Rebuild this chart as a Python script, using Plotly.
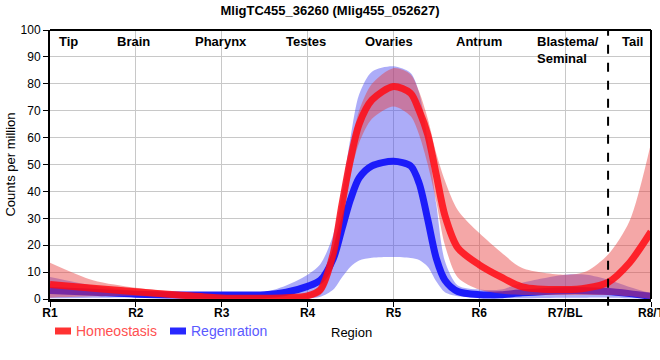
import plotly.graph_objects as go

# ---- data ----
regions = ["R1", "R2", "R3", "R4", "R5", "R6", "R7/BL", "R8/T"]
region_names = ["Tip", "Brain", "Pharynx", "Testes", "Ovaries", "Antrum", "Blastema/<br>Seminal", "Tail"]
region_name_pos = [0.22, 0.97, 1.99, 2.98, 3.95, 5.0, 5.65, 6.78]

# sample positions along the body axis (region index units)
pos = [0, 0.5, 1, 1.5, 2, 2.5, 2.75, 3, 3.15, 3.3, 3.4, 3.5, 3.6, 3.75, 4,
       4.2, 4.3, 4.4, 4.5, 4.6, 4.75, 5, 5.25, 5.5, 6, 6.25, 6.5, 6.75, 7]

homeo_mean = [5.4, 4.0, 2.7, 1.5, 0.4, 0.3, 0.5, 1.2, 3.5, 17, 35, 52, 65, 74, 79,
              76.5, 70, 61, 46, 31, 19, 12.7, 8.2, 4.5, 3.5, 4.1, 6.2, 13.5, 25]
homeo_upper = [13.5, 7, 4.2, 2.5, 1.2, 1.0, 1.2, 2, 5, 19, 38, 56, 70, 80, 85.8,
               83.5, 77, 67, 54, 44, 33, 24.5, 17.5, 11.5, 9, 10.3, 16.5, 29, 58]
homeo_lower = [0.5, 1, 1.2, 0.3, 0, 0, 0, 0.3, 1.5, 13, 30, 46, 58, 67, 71.6,
               68, 61, 50, 36, 20, 8, 3.5, 2, 1.5, 1.5, 1.5, 1.5, 1, 0]

regen_mean = [3.2, 2.5, 1.8, 1.5, 1.5, 1.6, 2.5, 4.7, 7, 15, 26, 37, 45, 49.5, 51.2,
              49.5, 43, 29.5, 15, 7, 2.8, 1.6, 1.6, 2.3, 3.1, 3.1, 2.8, 2, 1.0]
regen_upper = [8.2, 5, 3, 2.6, 2.5, 2.6, 5, 9, 13, 24, 40, 60, 76, 84.5, 86.5,
               84, 76.6, 59, 35, 14, 5, 3.5, 3.5, 6, 9, 9, 7.2, 4.5, 2.2]
regen_lower = [0.3, 0.5, 0.6, 0.5, 0.5, 0.5, 0.3, 0.2, 0.8, 3.5, 8, 12, 14.3, 15.3, 15.6,
               15.2, 14.5, 12, 6.5, 2.5, 1, 0.5, 0.3, 0.3, 0.5, 0.5, 0.5, 0.3, 0.2]

tail_boundary = 6.5
yticks = list(range(0, 101, 10))

title_text = "MligTC455_36260 (Mlig455_052627)"
series_names = ["Homeostasis", "Regenration"]

HOMEO_LINE = "rgba(255,10,20,0.85)"
REGEN_LINE = "rgba(20,20,250,0.95)"

W, H = 660, 360
ML, MR, MT, MB = 50, 9, 30, 61
PW, PH = W - ML - MR, H - MT - MB

def px_x(px):
    return (px - ML) / PW

def px_y(py):
    return (H - MB - py) / PH

# ---- figure ----
fig = go.Figure()

def band(upper, lower, color):
    fig.add_trace(go.Scatter(x=pos, y=upper, mode="lines", line=dict(width=0, shape="spline", smoothing=0.8),
                             showlegend=False, hoverinfo="skip"))
    fig.add_trace(go.Scatter(x=pos, y=lower, mode="lines", line=dict(width=0, shape="spline", smoothing=0.8),
                             fill="tonexty", fillcolor=color, showlegend=False, hoverinfo="skip"))

band(regen_upper, regen_lower, "rgba(70,70,240,0.45)")
fig.add_trace(go.Scatter(x=pos, y=regen_mean, mode="lines", name=series_names[1], showlegend=False,
                         line=dict(color=REGEN_LINE, width=7, shape="spline", smoothing=0.8)))
band(homeo_upper, homeo_lower, "rgba(230,60,60,0.45)")
fig.add_trace(go.Scatter(x=pos, y=homeo_mean, mode="lines", name=series_names[0], showlegend=False,
                         line=dict(color=HOMEO_LINE, width=7, shape="spline", smoothing=0.8)))

# legend (drawn as short thick bars with coloured labels)
for nm, col, txtcol, sx in [(series_names[0], "rgb(255,50,50)", "#ff5050", 55),
                            (series_names[1], "rgb(40,40,255)", "#5a5aff", 170)]:
    fig.add_shape(type="rect", xref="paper", yref="paper",
                  x0=px_x(sx), x1=px_x(sx + 16), y0=px_y(334.5), y1=px_y(327.5),
                  fillcolor=col, line=dict(width=0))
    fig.add_annotation(xref="paper", yref="paper", x=px_x(sx + 19), y=px_y(331), text=nm,
                       showarrow=False, xanchor="left", yanchor="middle",
                       font=dict(size=14, family="Liberation Sans, Arial", color=txtcol))

# x axis title
fig.add_annotation(xref="paper", yref="paper", x=px_x(351), y=px_y(332), text="Region",
                   showarrow=False, xanchor="center", yanchor="middle",
                   font=dict(size=13, family="Liberation Sans, Arial", color="black"))

fig.add_shape(type="line", x0=tail_boundary, x1=tail_boundary, xref="x", yref="paper", y0=-0.025, y1=1,
              line=dict(color="black", width=2, dash="dash"))

for name, xp in zip(region_names, region_name_pos):
    fig.add_annotation(x=xp, y=1, xref="x", yref="paper", text=name, showarrow=False,
                       xanchor="left" if "<br>" in name else "center", yanchor="top", yshift=-2,
                       align="left",
                       font=dict(family="Liberation Sans, Arial", size=13, color="black", weight="bold"))

fig.update_layout(
    width=W, height=H,
    margin=dict(l=ML, r=MR, t=MT, b=MB, autoexpand=False),
    paper_bgcolor="white", plot_bgcolor="white",
    title=dict(text=f"<b>{title_text}</b>", x=0.5, xref="container", xanchor="center",
               y=1 - 10 / H, yref="container", yanchor="middle",
               font=dict(family="Liberation Sans, Arial", size=13, color="black")),
    font=dict(family="Liberation Sans, Arial", color="black"),
    showlegend=False,
    xaxis=dict(range=[0, 7], tickmode="array", tickvals=list(range(len(regions))), ticktext=regions,
               tickfont=dict(size=12, family="Liberation Sans, Arial", weight="bold"),
               ticklabeloverflow="allow", automargin=False,
               showgrid=True, gridcolor="#c8c8c8", gridwidth=1,
               showline=True, linecolor="black", linewidth=3, mirror=False,
               ticks="outside", ticklen=5, tickcolor="black", tickwidth=1,
               zeroline=False),
    yaxis=dict(range=[0, 100], tickvals=yticks, tickfont=dict(size=12), automargin=False,
               showgrid=True, gridcolor="#c8c8c8", gridwidth=1,
               showline=True, linecolor="black", linewidth=2, mirror=False,
               ticks="outside", ticklen=5, tickcolor="black", tickwidth=1,
               title=dict(text="Counts per million", standoff=2, font=dict(size=13)),
               zeroline=False),
)
try:
    fig.update_xaxes(ticklabelstandoff=-4)
except Exception:
    pass

# top and right frame
fig.add_shape(type="line", xref="paper", yref="paper", x0=0, x1=1, y0=1, y1=1, line=dict(color="black", width=2))
fig.add_shape(type="line", xref="paper", yref="paper", x0=1, x1=1, y0=0, y1=1, line=dict(color="black", width=2))

fig.write_html("out.html", config={"displayModeBar": False},
               post_script="document.body.style.margin='0px';document.body.style.overflow='hidden';")
